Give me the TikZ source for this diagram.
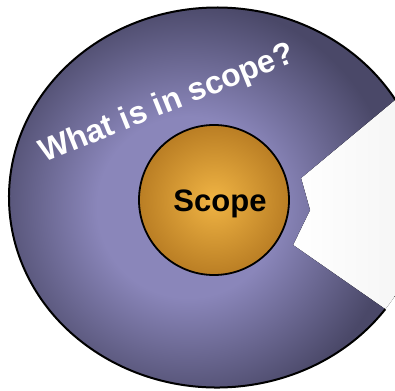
\documentclass[tikz,border=0pt]{standalone}
\usepackage{fontspec}
\setmainfont{Liberation Sans}
\usetikzlibrary{calc}

\definecolor{ringin}{RGB}{138,134,186}
\definecolor{ringout}{RGB}{74,72,104}
\definecolor{corein}{RGB}{240,180,68}
\definecolor{coreout}{RGB}{186,126,36}
\pgfdeclareradialshading{ringshade}{\pgfpoint{0bp}{0bp}}{color(0bp)=(ringin); color(11bp)=(ringin); color(25bp)=(ringout); color(50bp)=(ringout)}

\tikzset{
	ringtext/.style={font=\bfseries\fontsize{32}{38}\selectfont, text=white, inner sep=0pt},
	coretext/.style={font=\bfseries\fontsize{31}{36}\selectfont, text=black, inner sep=0pt},
	core/.style={circle, draw=black, line width=1.8pt, minimum size=150pt, inner sep=0pt, shading=radial, inner color=corein, outer color=coreout},
	wedge/.style={left color=white, right color=black!5},
}

\begin{document}
\begin{tikzpicture}[x=1pt, y=-1pt]
	\useasboundingbox (0,0) rectangle (395,390);
	\clip (0,0) rectangle (395,390);
	\coordinate (c) at (217,197.5);
	\coordinate (top) at ($(c)+(-31:208 and 190)$);
	\coordinate (bot) at ($(c)+(36:208 and 190)$);
	\coordinate (n1) at (301,178);
	\coordinate (n2) at (310,210);
	\coordinate (n3) at (293,245);
	\fill [wedge] (top) -- (n1) -- (n2) -- (n3) -- (bot) arc [start angle=36, end angle=-31, x radius=208, y radius=190] -- cycle;
	\fill [shading=ringshade] (bot) arc [start angle=36, end angle=329, x radius=208, y radius=190] -- (n1) -- (n2) -- (n3) -- cycle;
	\draw [line width=2pt] (bot) arc [start angle=36, end angle=329, x radius=208, y radius=190];
	\node [core] (scope) at (214,200) {};
	\node [coretext, anchor=base] (scopelabel) at (220,211) {Scope};
	\node [ringtext, rotate=22, anchor=base west] (question) at (44,163) {What is in scope?};
\end{tikzpicture}
\end{document}
